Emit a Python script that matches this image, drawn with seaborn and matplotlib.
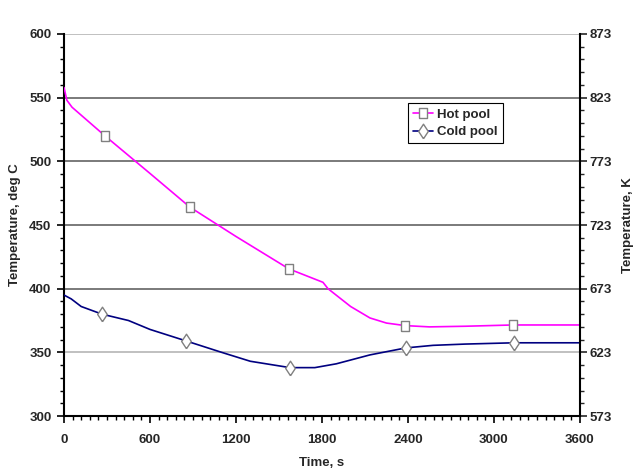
import matplotlib
matplotlib.use("Agg")
import matplotlib.pyplot as plt
from matplotlib.lines import Line2D
from matplotlib.ticker import MultipleLocator, FixedLocator
import seaborn as sns
import pandas as pd

# curves
hot_time = [0, 20, 56, 286, 600, 879, 1200, 1570, 1807, 1842, 2000, 2135, 2250, 2381, 2550, 2800, 3133, 3600]
hot_temp = [558, 548, 542.5, 520, 490.5, 464, 441, 415.5, 405, 400, 386, 377, 373, 371, 370, 370.5, 371.5, 371.5]
cold_time = [0, 50, 120, 265, 450, 600, 851, 1100, 1300, 1577, 1750, 1900, 2135, 2386, 2575, 2800, 3140, 3600]
cold_temp = [395, 392, 386, 380, 375, 368, 359, 350, 343, 338, 338, 341, 348, 353.5, 355.5, 356.5, 357.5, 357.5]

# marker positions
hot_mark_time = [286, 879, 1570, 2381, 3133]
hot_mark_temp = [520, 464, 415.5, 371, 371.5]
cold_mark_time = [265, 851, 1577, 2386, 3140]
cold_mark_temp = [380, 359, 338, 353.5, 357.5]

series_names = ["Hot pool", "Cold pool"]
colors = {"Hot pool": "#FF00FF", "Cold pool": "#000080"}

kelvin_ticks = [573, 623, 673, 723, 773, 823, 873]
kelvin_minor = list(range(573, 874, 10))

sns.set_style("white")
plt.rcParams["font.family"] = ["Liberation Sans", "DejaVu Sans"]
plt.rcParams["font.weight"] = "bold"
FS = 9.5

df = pd.concat([
    pd.DataFrame({"time": hot_time, "temp": hot_temp, "series": "Hot pool"}),
    pd.DataFrame({"time": cold_time, "temp": cold_temp, "series": "Cold pool"}),
])

# tall box / diamond markers like the original
rect = [(-0.35, -0.5), (0.35, -0.5), (0.35, 0.5), (-0.35, 0.5), (-0.35, -0.5)]
diam = [(0, -0.5), (0.33, 0), (0, 0.5), (-0.33, 0), (0, -0.5)]

fig = plt.figure(figsize=(6.38, 4.72), dpi=100)
ax = fig.add_axes([0.1003, 0.1186, 0.8087, 0.8094])

sns.lineplot(data=df, x="time", y="temp", hue="series", hue_order=series_names,
             palette=colors, linewidth=1.2, legend=False, ax=ax, zorder=3)
ax.plot(hot_mark_time, hot_mark_temp, ls="none", marker=rect, ms=7.5,
        mfc="white", mec="#808080", mew=1.0, zorder=4)
ax.plot(cold_mark_time, cold_mark_temp, ls="none", marker=diam, ms=10.5,
        mfc="white", mec="#808080", mew=1.0, zorder=4)

ax.set_xlim(0, 3600)
ax.set_ylim(300, 600)
ax.xaxis.set_major_locator(MultipleLocator(600))
ax.xaxis.set_minor_locator(MultipleLocator(60))
ax.yaxis.set_major_locator(MultipleLocator(50))
ax.yaxis.set_minor_locator(MultipleLocator(10))
ax.tick_params(which="major", direction="out", length=5, width=1.2, color="black",
               labelsize=FS)
ax.tick_params(which="minor", direction="out", length=3, width=1.0, color="black")
ax.tick_params(axis="x", which="both", bottom=True, pad=8)
ax.tick_params(axis="y", which="both", left=True, pad=4)

# horizontal grid, two of the lines are lighter in the original
for v in [350, 400, 450, 500, 550, 600]:
    c = "#BBBBBB" if v in (350, 600) else "#707070"
    ax.axhline(v, color=c, linewidth=1.3, zorder=1)

for side in ["top", "right"]:
    ax.spines[side].set_visible(False)
for side in ["left", "bottom"]:
    ax.spines[side].set_color("black")
    ax.spines[side].set_linewidth(1.5)

ax.set_xlabel("Time, s", fontsize=FS, fontweight="bold", labelpad=8)
ax.set_ylabel("Temperature, deg C", fontsize=FS, fontweight="bold", labelpad=6)

ax2 = ax.twinx()
ax2.set_ylim(573, 873)
ax2.yaxis.set_major_locator(FixedLocator(kelvin_ticks))
ax2.yaxis.set_minor_locator(FixedLocator(kelvin_minor))
ax2.tick_params(which="major", direction="out", length=5, width=1.2, labelsize=FS,
                right=True, pad=2)
ax2.tick_params(which="minor", direction="out", length=3, width=1.0, right=True)
for side in ["top", "left", "bottom"]:
    ax2.spines[side].set_visible(False)
ax2.spines["right"].set_color("black")
ax2.spines["right"].set_linewidth(1.5)
ax2.set_ylabel("Temperature, K", fontsize=FS, fontweight="bold", labelpad=7)
ax2.grid(False)
ax.grid(False)

handles = [
    Line2D([], [], color=colors["Hot pool"], lw=1.2, marker=rect, ms=7.5,
           mfc="white", mec="#808080"),
    Line2D([], [], color=colors["Cold pool"], lw=1.2, marker=diam, ms=10.5,
           mfc="white", mec="#808080"),
]
leg = ax.legend(handles, series_names, loc="upper left", bbox_to_anchor=(0.667, 0.819),
                frameon=True, fancybox=False, edgecolor="black", framealpha=1,
                handlelength=1.5, handletextpad=0.3, borderpad=0.4, labelspacing=0.4,
                borderaxespad=0, prop={"size": FS, "weight": "bold"})
leg.get_frame().set_linewidth(0.8)

fig.savefig("out.png", dpi=100)
